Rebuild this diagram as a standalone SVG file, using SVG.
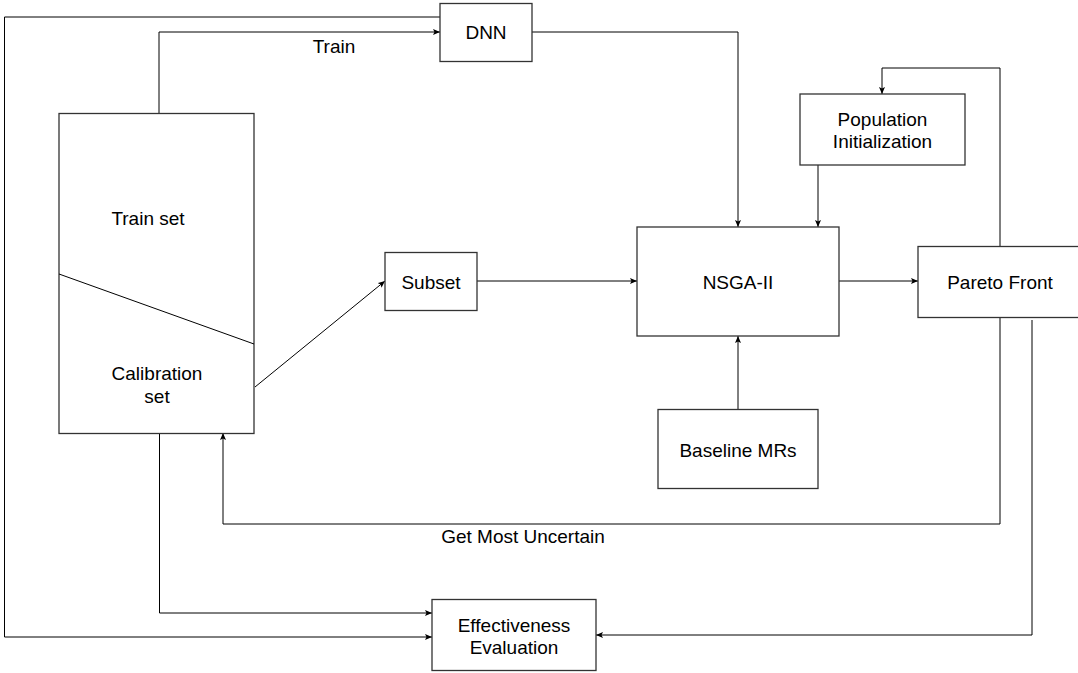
<svg xmlns="http://www.w3.org/2000/svg" width="1078" height="673" viewBox="0 0 1078 673">
<style>
.box{fill:#fff;stroke:#333;stroke-width:1.3}
.ln{fill:none;stroke:#000;stroke-width:1}
.arr{marker-end:url(#ah)}
text{font-family:"Liberation Sans",Arial,sans-serif;font-size:19px;fill:#000;text-anchor:middle;dominant-baseline:central}
</style>
<defs>
<marker id="ah" markerUnits="userSpaceOnUse" markerWidth="8" markerHeight="6" refX="7" refY="3" orient="auto">
<path d="M0,0 L7,3 L0,6 L1.5,3 z" fill="#000"/>
</marker>
</defs>
<rect width="1078" height="673" fill="#fff"/>
<g id="connectors">
<polyline class="ln arr" points="440,17 4.5,17 4.5,637 432,637"/>
<polyline class="ln arr" points="159,113 159,32 440,32"/>
<polyline class="ln arr" points="532,32 738,32 738,227"/>
<line class="ln arr" x1="255" y1="387" x2="385" y2="281"/>
<line class="ln arr" x1="477" y1="281" x2="637" y2="281"/>
<line class="ln arr" x1="839" y1="281" x2="918" y2="281"/>
<line class="ln arr" x1="818" y1="165" x2="818" y2="227"/>
<polyline class="ln arr" points="1000,246 1000,68 882,68 882,94"/>
<line class="ln arr" x1="738" y1="409" x2="738" y2="336"/>
<polyline class="ln arr" points="1000,317 1000,524 223,524 223,433"/>
<polyline class="ln arr" points="1032,320 1032,635 596,635"/>
<polyline class="ln arr" points="159.5,433 159.5,613 432,613"/>
<text x="334" y="46">Train</text>
<text x="523" y="536">Get Most Uncertain</text>
</g>
<g id="dataset">
<rect class="box" x="59" y="113.5" width="195" height="320"/>
<line class="ln" x1="59" y1="274" x2="254" y2="344"/>
<text x="148" y="218">Train set</text>
<text x="157" y="373">Calibration</text>
<text x="157" y="396">set</text>
</g>
<g id="dnn">
<rect class="box" x="440" y="3.5" width="92" height="58"/>
<text x="486" y="32">DNN</text>
</g>
<g id="subset">
<rect class="box" x="385" y="252.5" width="92" height="58"/>
<text x="431" y="282">Subset</text>
</g>
<g id="nsga">
<rect class="box" x="637" y="227" width="202" height="109"/>
<text x="738" y="282">NSGA-II</text>
</g>
<g id="popinit">
<rect class="box" x="800" y="94" width="165" height="71"/>
<text x="882.5" y="119">Population</text>
<text x="882.5" y="141">Initialization</text>
</g>
<g id="pareto">
<rect class="box" x="918" y="246.5" width="170" height="71"/>
<text x="1000" y="282">Pareto Front</text>
</g>
<g id="baseline">
<rect class="box" x="658" y="409.5" width="160" height="79"/>
<text x="738" y="450">Baseline MRs</text>
</g>
<g id="effectiveness">
<rect class="box" x="432" y="599.5" width="164" height="71"/>
<text x="514" y="625">Effectiveness</text>
<text x="514" y="647">Evaluation</text>
</g>
</svg>
